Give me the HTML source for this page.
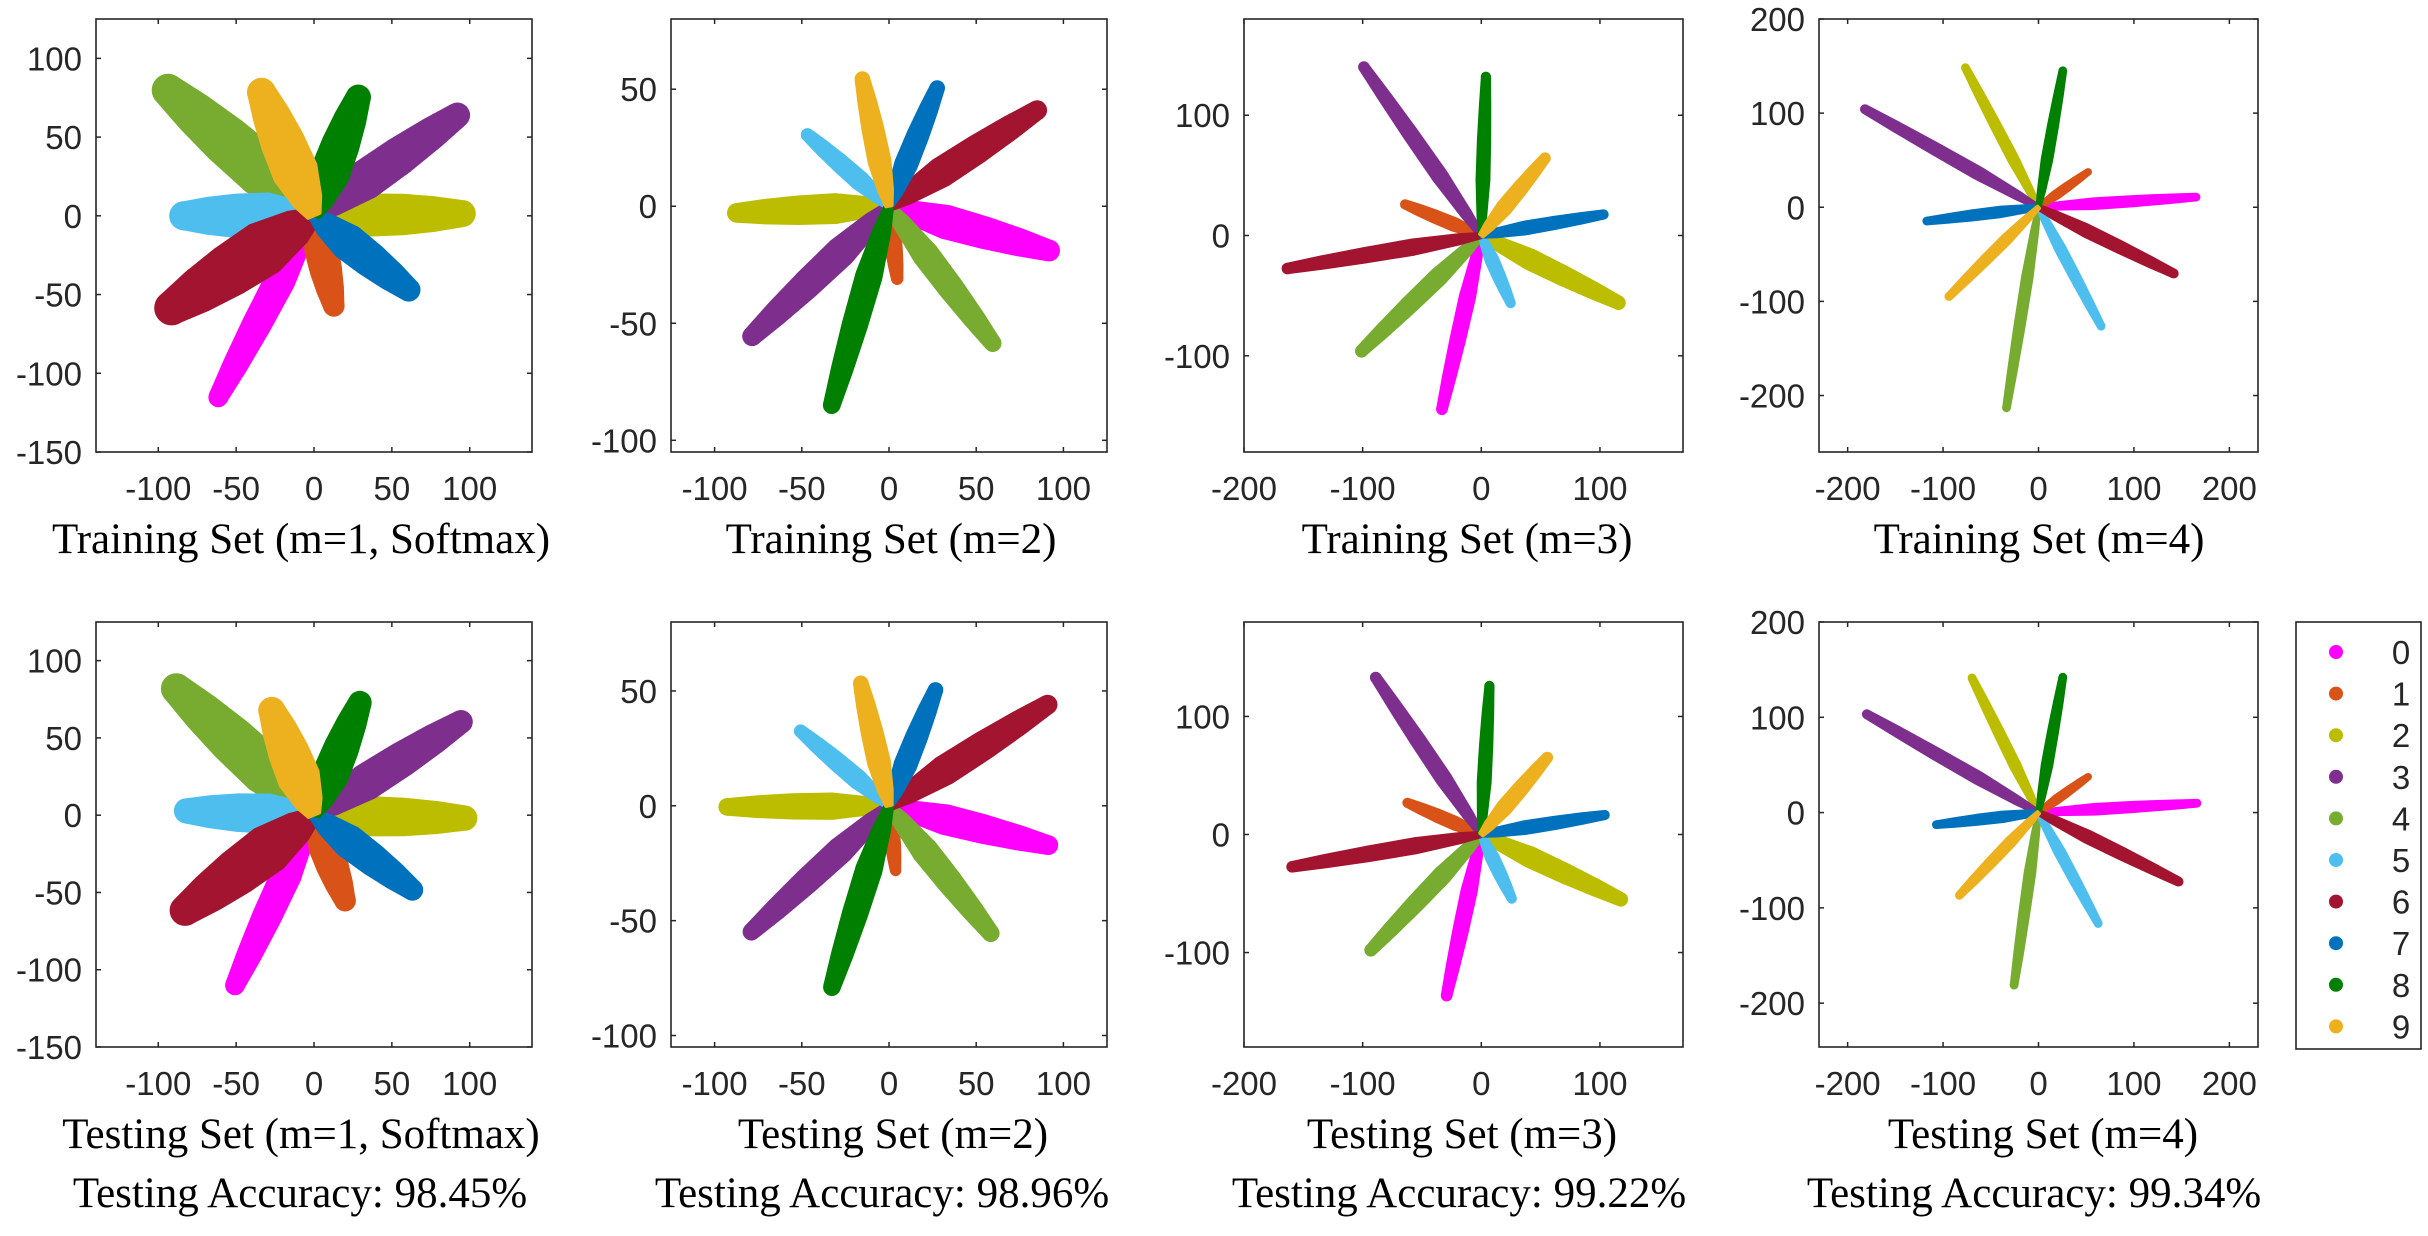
<!DOCTYPE html>
<html><head><meta charset="utf-8"><style>
html,body{margin:0;padding:0;background:#fff;}
svg{display:block;}
.tick{font-family:"Liberation Sans",Arial,sans-serif;font-size:33px;fill:#262626;}
.ttl{font-family:"Liberation Serif","Times New Roman",serif;font-size:43px;fill:#000;}
</style></head><body>
<svg id="fig" xmlns="http://www.w3.org/2000/svg" width="2428" height="1236" viewBox="0 0 2428 1236"></svg>
<script>
// ---- class labels & colours ----
const classLabels = ['0','1','2','3','4','5','6','7','8','9'];
const classColors = ['#FF00FF','#D95319','#BDBD00','#7E2F8E','#77AC30','#4DBEEE','#A2142F','#0072BD','#008000','#EDB120'];

// ---- tick labels ----
const ticksM1X = [-100,-50,0,50,100];
const ticksM1Y = [-150,-100,-50,0,50,100];
const ticksM2X = [-100,-50,0,50,100];
const ticksM2Y = [-100,-50,0,50];
const ticksM3X = [-200,-100,0,100];
const ticksM3Y = [-100,0,100];
const ticksM4X = [-200,-100,0,100,200];
const ticksM4Y = [-200,-100,0,100,200];

// ---- cluster tips (x,y) and spread (half-width, data units) per panel ----
const p1TipX = [-64,14,103,98,-101,-92,-100,66,31,-37];
const p1TipY = [-120,-63,1.5,68,86,0,-64,-51,82,86];
const p1Spread = [9,10,13,12,16,14,17,11,12,14];

const p2TipX = [97,5,-92,-82,62,-49,89,29,-34,-16];
const p2TipY = [-20,-33,-3,-58,-61,32,43,53,-88,57];
const p2Spread = [9,4.5,8,8,7,5,8,6,7,6];

const p3TipX = [-34,-67,120,-101,-104,26,-167,106,4,56];
const p3TipY = [-148,27,-58,143,-99,-59,-28,18,135,67];
const p3Spread = [6,5,8,6,7,5,6,5,5,6];

const p4TipX = [168,54,-78,-185,-34,67,145,-120,26,-96];
const p4TipY = [11,39,151,106,-216,-129,-72,-15,148,-97];
const p4Spread = [5,4,5,6,5,5,6,5,5,5];

const p5TipX = [-53,22,104,100,-95,-89,-90,68,32,-30];
const p5TipY = [-115,-61,-2,64,88,3,-67,-52,79,75];
const p5Spread = [9,10,12,11,15,12,15,10,11,13];

const p6TipX = [96,4,-97,-82,61,-53,95,28,-34,-17];
const p6TipY = [-18,-30,-0.5,-57,-58,34,46,53,-82,56];
const p6Spread = [8,4,7,7,7,5,8,6,7,6];

const p7TipX = [-30,-65,122,-91,-96,27,-163,107,7,58];
const p7TipY = [-140,28,-57,136,-101,-57,-28,17,129,68];
const p7Spread = [6,5,8,6,7,5,6,5,5,6];

const p8TipX = [169,54,-71,-183,-26,64,150,-110,26,-85];
const p8TipY = [10,39,144,105,-184,-119,-74,-13,145,-89];
const p8Spread = [5,4,5,6,5,5,6,5,5,5];

const panels = [
 {name:'train-m1', box:[96,19,532,452], xd:[-140,140], yd:[-150,125], xt:ticksM1X, yt:ticksM1Y, tx:p1TipX, ty:p1TipY, sp:p1Spread, title:'Training Set (m=1, Softmax)', titleX:301, acc:null},
 {name:'train-m2', box:[671,19,1107,452], xd:[-125,125], yd:[-105,80], xt:ticksM2X, yt:ticksM2Y, tx:p2TipX, ty:p2TipY, sp:p2Spread, title:'Training Set (m=2)', titleX:891, acc:null},
 {name:'train-m3', box:[1244,19,1683,452], xd:[-200,170], yd:[-180,180], xt:ticksM3X, yt:ticksM3Y, tx:p3TipX, ty:p3TipY, sp:p3Spread, title:'Training Set (m=3)', titleX:1467, acc:null},
 {name:'train-m4', box:[1819,19,2258,452], xd:[-230,230], yd:[-260,200], xt:ticksM4X, yt:ticksM4Y, tx:p4TipX, ty:p4TipY, sp:p4Spread, title:'Training Set (m=4)', titleX:2039, acc:null},
 {name:'test-m1', box:[96,622,532,1047], xd:[-140,140], yd:[-150,125], xt:ticksM1X, yt:ticksM1Y, tx:p5TipX, ty:p5TipY, sp:p5Spread, title:'Testing Set (m=1, Softmax)', titleX:301, acc:'Testing Accuracy: 98.45%', accX:300},
 {name:'test-m2', box:[671,622,1107,1047], xd:[-125,125], yd:[-105,80], xt:ticksM2X, yt:ticksM2Y, tx:p6TipX, ty:p6TipY, sp:p6Spread, title:'Testing Set (m=2)', titleX:893, acc:'Testing Accuracy: 98.96%', accX:882},
 {name:'test-m3', box:[1244,622,1683,1047], xd:[-200,170], yd:[-180,180], xt:ticksM3X, yt:ticksM3Y, tx:p7TipX, ty:p7TipY, sp:p7Spread, title:'Testing Set (m=3)', titleX:1462, acc:'Testing Accuracy: 99.22%', accX:1459},
 {name:'test-m4', box:[1819,622,2258,1047], xd:[-230,230], yd:[-246,200], xt:ticksM4X, yt:ticksM4Y, tx:p8TipX, ty:p8TipY, sp:p8Spread, title:'Testing Set (m=4)', titleX:2043, acc:'Testing Accuracy: 99.34%', accX:2034}
];

const NS = 'http://www.w3.org/2000/svg';
const svg = document.getElementById('fig');
function mk(tag, attrs, parent){
  const e = document.createElementNS(NS, tag);
  for (const k in attrs) e.setAttribute(k, attrs[k]);
  parent.appendChild(e);
  return e;
}

panels.forEach(p => {
  const [L,T,R,B] = p.box;
  const sx = v => L + (v - p.xd[0]) / (p.xd[1]-p.xd[0]) * (R-L);
  const sy = v => B - (v - p.yd[0]) / (p.yd[1]-p.yd[0]) * (B-T);
  const kx = (R-L)/(p.xd[1]-p.xd[0]);
  const g = mk('g', {}, svg);
  
  
  mk('rect', {x:L, y:T, width:R-L, height:B-T, fill:'#fff'}, g);

  const cg = mk('g', {}, g);
  
  
  const ox = sx(0), oy = sy(0);
  const ts = [0, 0.12, 0.35, 0.6, 0.82, 1];
  const ws = [0.3, 0.65, 1, 0.95, 0.8, 0.6];
  classLabels.forEach((lab, i) => {
    const ex = sx(p.tx[i]), ey = sy(p.ty[i]);
    const hw = p.sp[i] * kx;
    const dx = ex - ox, dy = ey - oy;
    const len = Math.hypot(dx, dy) || 1;
    const ux = dx/len, uy = dy/len, nx = -uy, ny = ux;
    const rTip = hw*0.6;
    const effLen = Math.max(len - rTip, 1);
    const left = [], right = [];
    ts.forEach((t, j) => {
      const cx = ox + ux*effLen*t, cy = oy + uy*effLen*t;
      const w = hw*ws[j];
      left.push([cx + nx*w, cy + ny*w]);
      right.push([cx - nx*w, cy - ny*w]);
    });
    const pts = left.concat(right.slice().reverse());
    const d = 'M' + pts.map(q => q[0].toFixed(1)+','+q[1].toFixed(1)).join(' L') + ' Z';
    const path = mk('path', {d:d, fill:classColors[i], stroke:classColors[i], 'stroke-width':3, 'stroke-linejoin':'round'}, cg);
    
    
    const cx = ox + ux*effLen, cy = oy + uy*effLen;
    const dot = mk('circle', {cx:cx.toFixed(1), cy:cy.toFixed(1), r:(rTip+1.5).toFixed(1), fill:classColors[i]}, cg);
    
    
  });

  const box = mk('rect', {x:L, y:T, width:R-L, height:B-T, fill:'none', stroke:'#262626', 'stroke-width':1.6}, g);
  
  

  p.xt.forEach(v => {
    const x = sx(v);
    mk('line', {x1:x, y1:B, x2:x, y2:B-5, stroke:'#262626', 'stroke-width':1.5}, g);
    mk('line', {x1:x, y1:T, x2:x, y2:T+5, stroke:'#262626', 'stroke-width':1.5}, g);
    const t = mk('text', {x:x, y:B+48, 'text-anchor':'middle', class:'tick'}, g);
    t.textContent = String(v);
    
    
  });
  p.yt.forEach(v => {
    const y = sy(v);
    mk('line', {x1:L, y1:y, x2:L+5, y2:y, stroke:'#262626', 'stroke-width':1.5}, g);
    mk('line', {x1:R, y1:y, x2:R-5, y2:y, stroke:'#262626', 'stroke-width':1.5}, g);
    const t = mk('text', {x:L-14, y:y+12, 'text-anchor':'end', class:'tick'}, g);
    t.textContent = String(v);
    
    
  });

  const tt = mk('text', {x:p.titleX, y:B+101, 'text-anchor':'middle', class:'ttl'}, g);
  tt.textContent = p.title;
  
  
  if (p.acc) {
    const at = mk('text', {x:p.accX, y:B+160, 'text-anchor':'middle', class:'ttl'}, g);
    at.textContent = p.acc;
    
    
  }
});

const lg = mk('g', {}, svg);


mk('rect', {x:2296, y:622, width:125, height:427, fill:'#fff', stroke:'#262626', 'stroke-width':1.6}, lg);
classLabels.forEach((lab, i) => {
  const y = 652 + i*41.6;
  const e = mk('g', {}, lg);
  
  
  mk('circle', {cx:2336, cy:y, r:7, fill:classColors[i]}, e);
  const t = mk('text', {x:2401, y:y+12, 'text-anchor':'middle', class:'tick'}, e);
  t.textContent = lab;
});
</script>
</body></html>
